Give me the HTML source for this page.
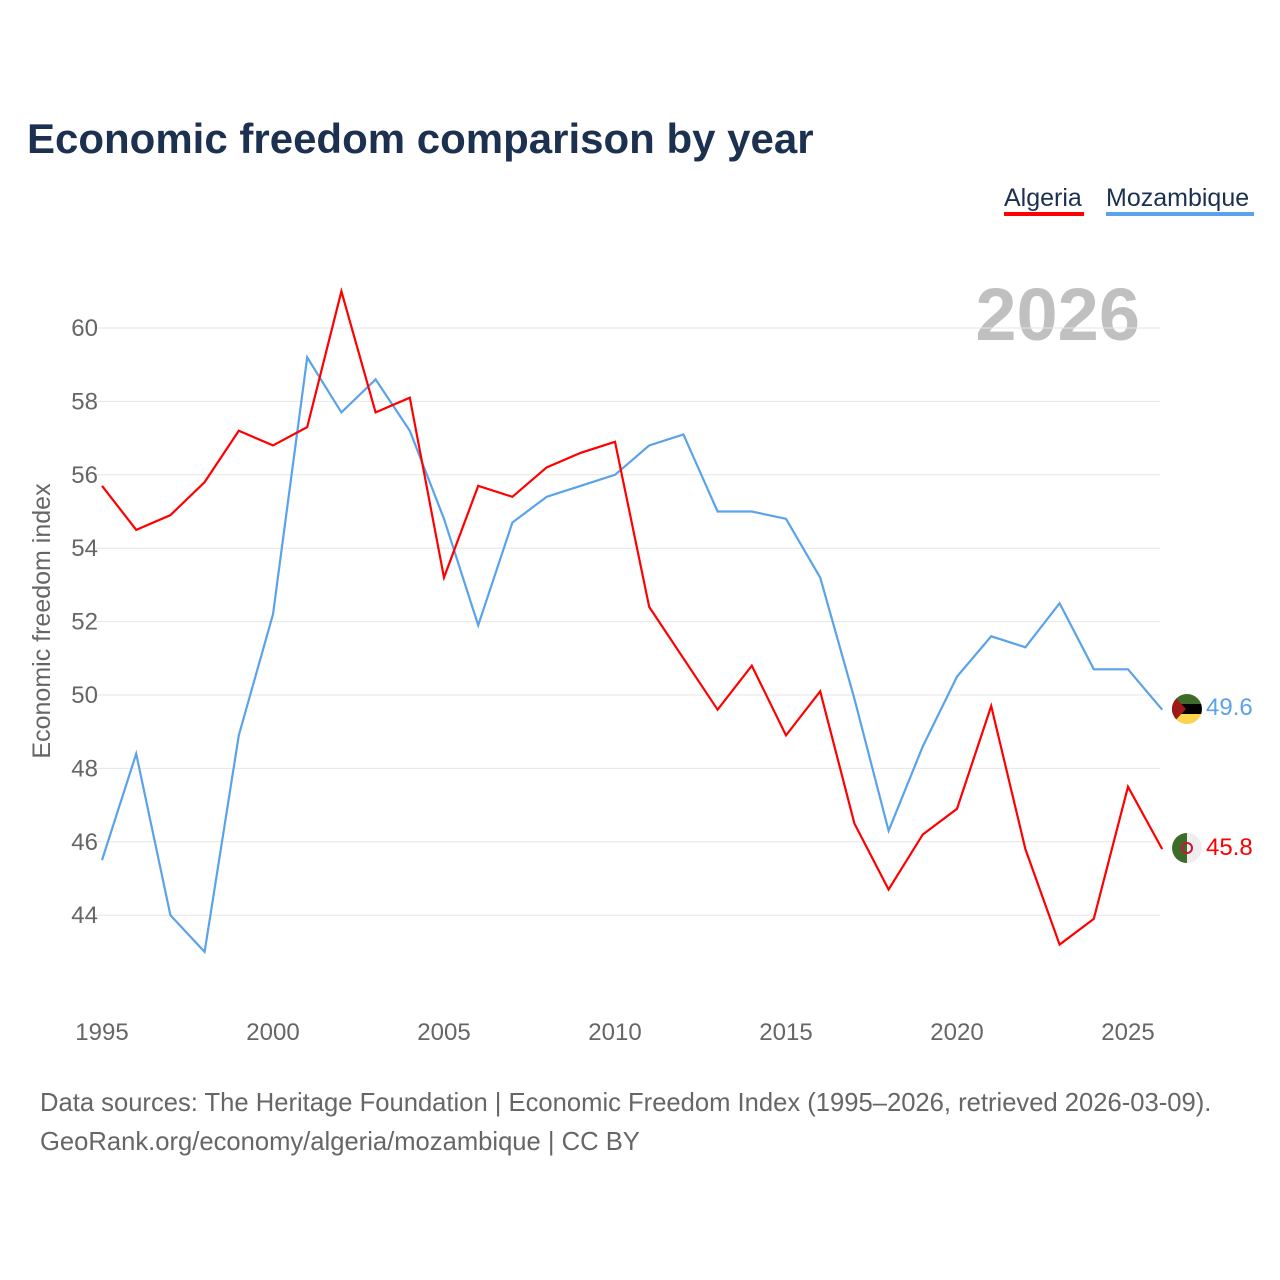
<!DOCTYPE html>
<html><head><meta charset="utf-8">
<style>
body{margin:0;background:#fff;font-family:"Liberation Sans",sans-serif;}
svg{display:block}
</style></head><body>
<svg id="chart" width="1280" height="1280" xmlns="http://www.w3.org/2000/svg">
<text x="27" y="153" font-size="42" font-weight="bold" fill="#1c3050">Economic freedom comparison by year</text>
<g><text x="1004" y="206" font-size="25" fill="#1c3050">Algeria</text><rect x="1004" y="212" width="80" height="4" fill="#f00"/></g>
<g><text x="1106" y="206" font-size="25" fill="#1c3050">Mozambique</text><rect x="1106" y="212" width="148" height="4" fill="#5aa2ea"/></g>
<text x="1140" y="340" text-anchor="end" font-size="74" font-weight="bold" fill="#c0c0c0">2026</text>
<text transform="translate(50,621) rotate(-90)" text-anchor="middle" font-size="25" fill="#666">Economic freedom index</text>
<g id="grid"></g><g id="xt"></g><g id="lines"></g>
<g>
<clipPath id="c1"><circle cx="1187" cy="709" r="15"/></clipPath>
<g clip-path="url(#c1)"><rect x="1170" y="692" width="34" height="12" fill="#3d6b2a"/><rect x="1170" y="704" width="34" height="10" fill="#000"/><rect x="1170" y="714" width="34" height="12" fill="#fcd34d"/><polygon points="1170,692 1186,709 1170,726" fill="#a01818"/></g></g>
<g>
<clipPath id="c2"><circle cx="1187" cy="848" r="15"/></clipPath>
<g clip-path="url(#c2)"><rect x="1170" y="831" width="17" height="34" fill="#3d6b2a"/><rect x="1187" y="831" width="17" height="34" fill="#eee"/><circle cx="1187" cy="848" r="5" fill="none" stroke="#d21034" stroke-width="2"/></g></g>
<text x="1206" y="715" font-size="24" fill="#5aa2ea">49.6</text>
<text x="1206" y="855" font-size="24" fill="#f00">45.8</text>
<text x="40" y="1111" font-size="25.6" fill="#666">Data sources: The Heritage Foundation | Economic Freedom Index (1995–2026, retrieved 2026-03-09).</text>
<text x="40" y="1150" font-size="25.6" fill="#666">GeoRank.org/economy/algeria/mozambique | CC BY</text>
</svg>
<script>
const years=[1995,1996,1997,1998,1999,2000,2001,2002,2003,2004,2005,2006,2007,2008,2009,2010,2011,2012,2013,2014,2015,2016,2017,2018,2019,2020,2021,2022,2023,2024,2025,2026];
const algeria=[55.7,54.5,54.9,55.8,57.2,56.8,57.3,61.0,57.7,58.1,53.2,55.7,55.4,56.2,56.6,56.9,52.4,51.0,49.6,50.8,48.9,50.1,46.5,44.7,46.2,46.9,49.7,45.8,43.2,43.9,47.5,45.8];
const mozambique=[45.5,48.4,44.0,43.0,48.9,52.2,59.2,57.7,58.6,57.2,54.8,51.9,54.7,55.4,55.7,56.0,56.8,57.1,55.0,55.0,54.8,53.2,49.9,46.3,48.6,50.5,51.6,51.3,52.5,50.7,50.7,49.6];
const yTicks=[44,46,48,50,52,54,56,58,60];
const xTicks=[1995,2000,2005,2010,2015,2020,2025];
const X=y=>102+(y-1995)*34.2;
const Y=v=>328+(60-v)*36.7;
const NS="http://www.w3.org/2000/svg";
const grid=document.getElementById('grid');
yTicks.forEach(t=>{
 const l=document.createElementNS(NS,'line');
 l.setAttribute('x1',95);l.setAttribute('x2',1160);l.setAttribute('y1',Y(t));l.setAttribute('y2',Y(t));
 l.setAttribute('stroke','#e6e6e6');l.setAttribute('stroke-width','1');
 
 
 grid.appendChild(l);
 const tx=document.createElementNS(NS,'text');
 tx.setAttribute('x',98);tx.setAttribute('y',Y(t)+8);tx.setAttribute('text-anchor','end');
 tx.setAttribute('font-size','24');tx.setAttribute('fill','#666');tx.textContent=t;
 
 
 grid.appendChild(tx);
});
const xt=document.getElementById('xt');
xTicks.forEach(t=>{
 const tx=document.createElementNS(NS,'text');
 tx.setAttribute('x',X(t));tx.setAttribute('y',1040);tx.setAttribute('text-anchor','middle');
 tx.setAttribute('font-size','24');tx.setAttribute('fill','#666');tx.textContent=t;
 
 
 xt.appendChild(tx);
});
const lines=document.getElementById('lines');
function draw(vals,color,name){
 const p=document.createElementNS(NS,'polyline');
 p.setAttribute('points',vals.map((v,i)=>X(years[i])+','+Y(v)).join(' '));
 p.setAttribute('fill','none');p.setAttribute('stroke',color);p.setAttribute('stroke-width','2.2');
 
 
 lines.appendChild(p);
}
draw(mozambique,'#5aa2ea','mozambique-line');
draw(algeria,'#f00','algeria-line');
</script>
</body></html>
